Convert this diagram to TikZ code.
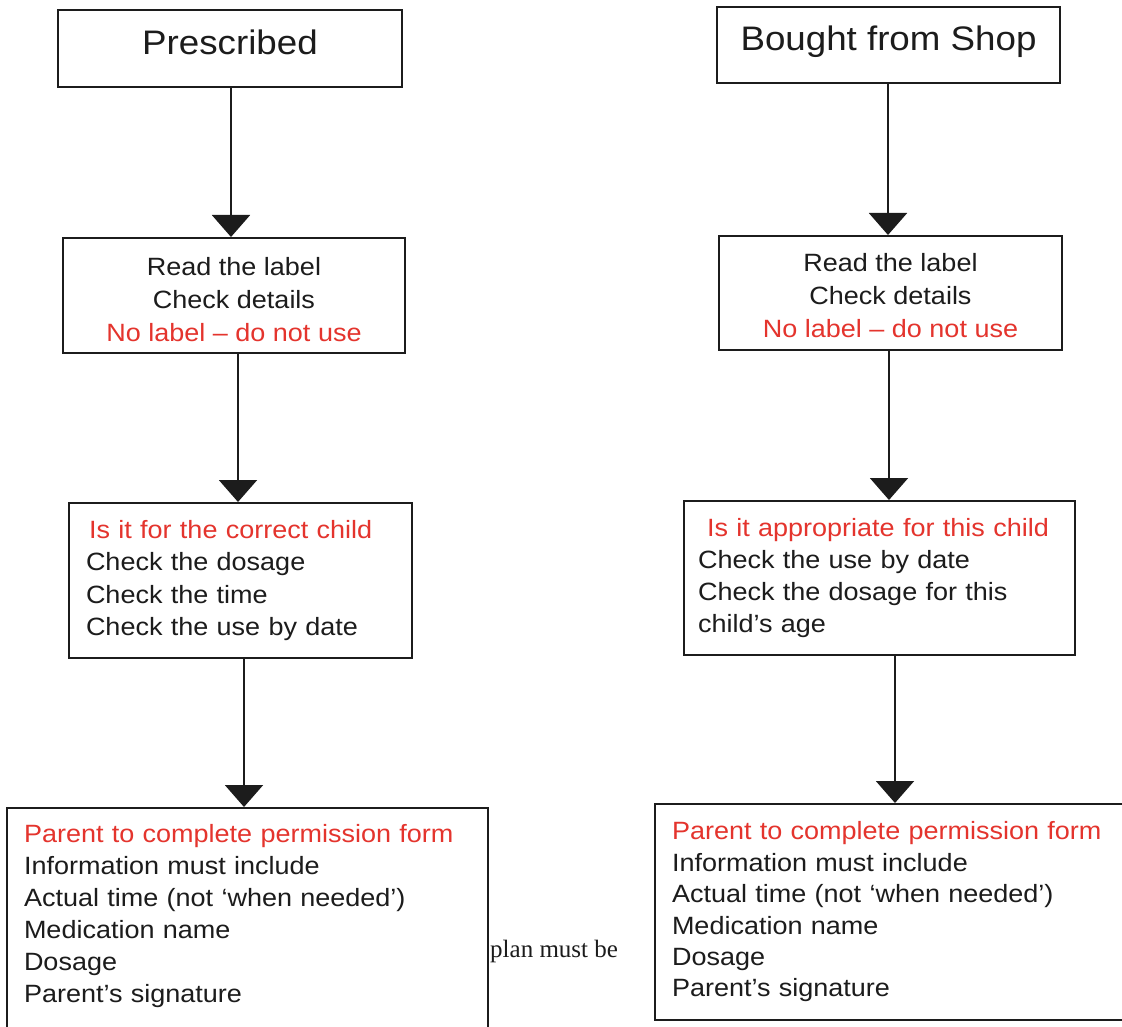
\documentclass[tikz,border=0pt]{standalone}
\usepackage{fontspec}
\setmainfont{Liberation Sans}[FakeStretch=1.08]
\newfontfamily\scanserif{Liberation Serif}
\usetikzlibrary{arrows.meta}
\definecolor{redtxt}{RGB}{228,52,45}
\definecolor{inktxt}{RGB}{28,28,28}
\begin{document}
\begin{tikzpicture}[x=1pt,y=-1pt,
  boxbase/.style={draw=inktxt, line width=2pt, rectangle, inner ysep=0pt, text=inktxt},
  titlebox/.style={boxbase, font=\fontsize{34}{40}\selectfont, inner xsep=0pt, text depth=0pt},
  cbox/.style={boxbase, font=\fontsize{25}{33}\selectfont, align=center, inner xsep=0pt},
  lbox/.style={boxbase, font=\fontsize{25}{32.3}\selectfont, align=left, inner xsep=#1},
  arr/.style={line width=2pt, draw=inktxt, -{Triangle[width=38pt,length=22pt]}}
]
\useasboundingbox (0,0) rectangle (1122,1027);
\fill[white] (0,0) rectangle (1122,1027);
\clip (0,0) rectangle (1122,1027);

% left column
\node[titlebox, text height=13pt, minimum width=344pt, minimum height=77pt] (lb1) at (230,48.5) {Prescribed};
\node[cbox, minimum width=342pt, minimum height=115pt] (lb2) at (234,295.5)
  {\rule{0pt}{26pt}Read the label\\Check details\\\textcolor{redtxt}{No label – do not use}};
\node[lbox=17pt, text width=309pt, minimum width=343pt, minimum height=155pt] (lb3) at (240.5,580.5)
  {\textcolor{redtxt}{\hspace{3pt}Is it for the correct child}\\Check the dosage\\Check the time\\Check the use by date};
\node[lbox=17pt, font=\fontsize{25}{32}\selectfont, text width=447pt, minimum width=481pt, minimum height=224pt] (lb4) at (247.5,920)
  {\textcolor{redtxt}{Parent to complete permission form}\\Information must include\\Actual time (not ‘when needed’)\\Medication name\\Dosage\\Parent’s signature\rule[-13pt]{0pt}{0pt}};

% right column
\node[titlebox, text height=11.6pt, minimum width=343pt, minimum height=76pt] (rb1) at (888.5,45) {Bought from Shop};
\node[cbox, minimum width=343pt, minimum height=114pt] (rb2) at (890.5,293)
  {\rule{0pt}{23pt}Read the label\\Check details\\\textcolor{redtxt}{No label – do not use}};
\node[lbox=14pt, text width=363pt, minimum width=391pt, minimum height=154pt] (rb3) at (879.5,578)
  {\textcolor{redtxt}{\hspace{9pt}Is it appropriate for this child}\\Check the use by date\\Check the dosage for this\\child’s age};
\node[lbox=17pt, font=\fontsize{25}{31.4}\selectfont, text width=446pt, minimum width=480pt, minimum height=216pt] (rb4) at (895,912)
  {\textcolor{redtxt}{Parent to complete permission form}\\Information must include\\Actual time (not ‘when needed’)\\Medication name\\Dosage\\Parent’s signature};

% stray text
\node[anchor=base west, inner sep=0pt, font=\scanserif\fontsize{25}{30}\selectfont, text=inktxt] (plan) at (490,957) {plan must be};

% connectors
\draw[arr] ([xshift=1pt]lb1.south) -- ([xshift=1pt]lb1.south |- lb2.north);
\draw[arr] ([xshift=4pt]lb2.south) -- ([xshift=4pt]lb2.south |- lb3.north);
\draw[arr] ([xshift=3.5pt]lb3.south) -- ([xshift=3.5pt]lb3.south |- lb4.north);
\draw[arr] ([xshift=-0.5pt]rb1.south) -- ([xshift=-0.5pt]rb1.south |- rb2.north);
\draw[arr] ([xshift=-1.5pt]rb2.south) -- ([xshift=-1.5pt]rb2.south |- rb3.north);
\draw[arr] ([xshift=15.5pt]rb3.south) -- ([xshift=15.5pt]rb3.south |- rb4.north);
\end{tikzpicture}
\end{document}
